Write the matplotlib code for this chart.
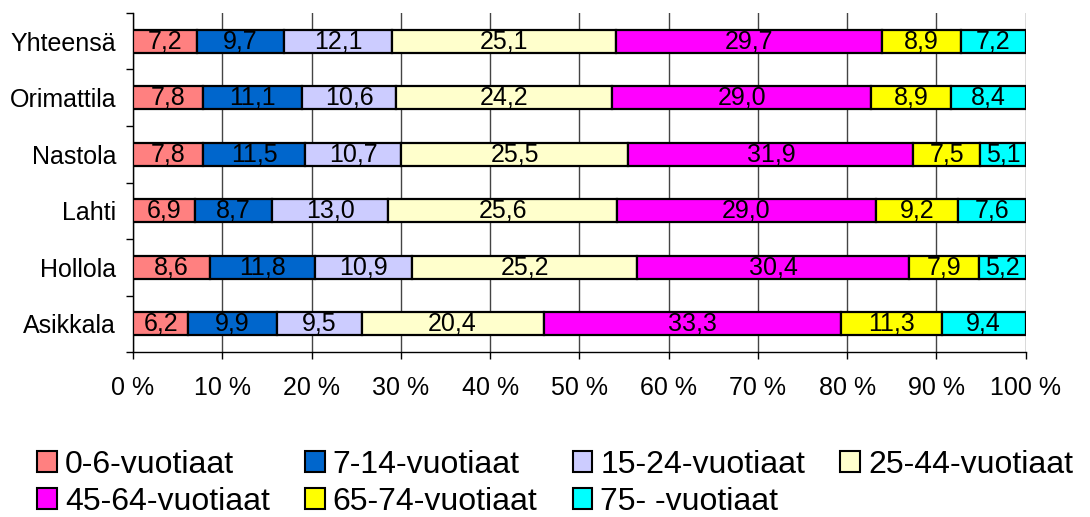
import numpy as np
import matplotlib
matplotlib.use("Agg")
import matplotlib.pyplot as plt
from matplotlib.patches import Patch

plt.rcParams['font.family'] = ['Liberation Sans', 'DejaVu Sans']

# data (bottom to top)
kunnat = ['Asikkala', 'Hollola', 'Lahti', 'Nastola', 'Orimattila', 'Yhteensä']
ryhmat = ['0-6-vuotiaat', '7-14-vuotiaat', '15-24-vuotiaat', '25-44-vuotiaat',
          '45-64-vuotiaat', '65-74-vuotiaat', '75- -vuotiaat']
v_0_6 = [6.2, 8.6, 6.9, 7.8, 7.8, 7.2]
v_7_14 = [9.9, 11.8, 8.7, 11.5, 11.1, 9.7]
v_15_24 = [9.5, 10.9, 13.0, 10.7, 10.6, 12.1]
v_25_44 = [20.4, 25.2, 25.6, 25.5, 24.2, 25.1]
v_45_64 = [33.3, 30.4, 29.0, 31.9, 29.0, 29.7]
v_65_74 = [11.3, 7.9, 9.2, 7.5, 8.9, 8.9]
v_75 = [9.4, 5.2, 7.6, 5.1, 8.4, 7.2]
varit = ['#FF8080', '#0066CC', '#CCCCFF', '#FFFFCC', '#FF00FF', '#FFFF00', '#00FFFF']

data = np.array([v_0_6, v_7_14, v_15_24, v_25_44, v_45_64, v_65_74, v_75])
osuus = data / data.sum(axis=0) * 100   # 100 % pinottu

fig = plt.figure(figsize=(10.9, 5.17), dpi=100)
ax = fig.add_axes([0.122, 0.319, 0.819, 0.656])

y = np.arange(len(kunnat))
left = np.zeros(len(kunnat))
for i in range(len(ryhmat)):
    ax.barh(y, osuus[i], left=left, height=0.41, color=varit[i],
            edgecolor='black', linewidth=1.6, zorder=3)
    for j in range(len(kunnat)):
        ax.text(left[j] + osuus[i][j] / 2, y[j], f'{data[i][j]:.1f}'.replace('.', ','),
                ha='center', va='center', fontsize=18, zorder=4)
    left += osuus[i]

ax.set_xlim(0, 100)
ax.set_ylim(-0.5, len(kunnat) - 0.5)

# x-akseli
ax.set_xticks(np.arange(0, 101, 10))
ax.set_xticklabels([f'{t} %' for t in range(0, 101, 10)], fontsize=18)
ax.tick_params(axis='x', length=5, width=1, pad=12)
ax.grid(axis='x', color='#444444', linewidth=1, zorder=0)

# y-akseli: tikit luokkien väleissä, nimet keskellä
ax.set_yticks(np.arange(-0.5, len(kunnat), 1))
ax.set_yticklabels([])
ax.set_yticks(y, minor=True)
ax.set_yticklabels(kunnat, minor=True, fontsize=18)
ax.tick_params(axis='y', which='major', length=5, width=1)
ax.tick_params(axis='y', which='minor', length=0, pad=12)

for s in ['top', 'right']:
    ax.spines[s].set_visible(False)
ax.spines['left'].set_linewidth(1)
ax.spines['bottom'].set_linewidth(1)

# selite riveittäin
handles = [Patch(facecolor=varit[i], edgecolor='black', linewidth=1.5) for i in range(len(ryhmat))]
order = [0, 4, 1, 5, 2, 6, 3]
fig.legend([handles[i] for i in order], [ryhmat[i] for i in order],
           ncol=4, loc='upper left', bbox_to_anchor=(0.034, 0.13),
           frameon=False, fontsize=23, handlelength=0.62, handleheight=0.62,
           handletextpad=0.25, columnspacing=1.1, labelspacing=0.22,
           borderpad=0, borderaxespad=0)

fig.savefig('out.png', dpi=100)
